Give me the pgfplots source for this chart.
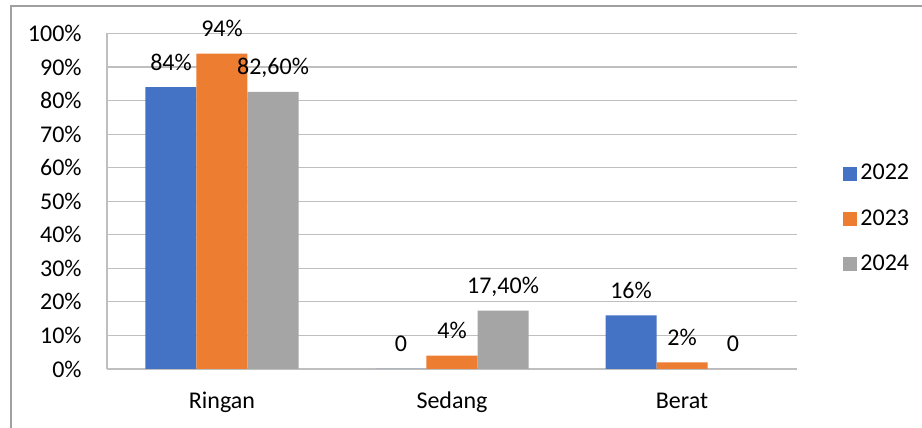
\documentclass[border=0pt]{standalone}
\usepackage{fontspec}
\setmainfont{Carlito}
\usepackage{pgfplots}
\pgfplotsset{compat=1.18}
\definecolor{c2022}{RGB}{68,114,196}
\definecolor{c2023}{RGB}{237,125,49}
\definecolor{c2024}{RGB}{165,165,165}
\definecolor{gridc}{RGB}{191,191,191}
\definecolor{framec}{RGB}{160,160,160}

\begin{document}
\fontsize{12pt}{14pt}\selectfont
\begin{tikzpicture}
\path[use as bounding box] (-53.5pt,-29.5pt) rectangle (407.5pt,184.5pt);
\draw[framec, line width=0.8pt] (-48pt,-29.5pt) -- (-48pt,181.5pt) -- (407.5pt,181.5pt);
\begin{axis}[
    scale only axis,
    width=345pt, height=167.75pt,
    ybar=0pt, bar width=25.5pt,
    xmin=-0.5, xmax=2.5,
    ymin=0, ymax=100,
    xtick={0,1,2},
    xticklabels={Ringan,Sedang,Berat},
    ytick={0,10,...,100},
    yticklabel={\pgfmathprintnumber{\tick}\%},
    /pgf/number format/assume math mode=true,
    major tick length=0pt,
    ymajorgrids,
    grid style={gridc, line width=0.6pt},
    axis x line*=bottom,
    axis y line*=left,
    x axis line style={draw=none},
    y axis line style={gridc, line width=0.6pt},
    yticklabel style={xshift=-8.5pt},
    xticklabel style={anchor=base, yshift=-20pt},
    tick label style={font=\fontsize{12pt}{14pt}\selectfont},
    clip=false,
    point meta=explicit symbolic,
    nodes near coords,
    every node near coord/.append style={anchor=base, yshift=8.5pt, font=\fontsize{12pt}{14pt}\selectfont, text=black},
    legend style={draw=none, at={(1.058,0.447)}, anchor=west,
        font=\fontsize{12pt}{14pt}\selectfont, row sep=9pt,
        nodes={inner xsep=1.5pt}},
    legend cell align=left,
    legend image code/.code={\fill[#1] (0pt,-3.5pt) rectangle (7pt,3.5pt);},
]
\addplot[fill=c2022, draw=none] coordinates {(0,84) [84\%] (1,0) [0] (2,16) [16\%]};
\addplot[fill=c2023, draw=none] coordinates {(0,94) [94\%] (1,4) [4\%] (2,2) [2\%]};
\addplot[fill=c2024, draw=none] coordinates {(0,82.6) [82,60\%] (1,17.4) [17,40\%] (2,0) [0]};
\legend{2022,2023,2024}
\end{axis}
\end{tikzpicture}
\end{document}
